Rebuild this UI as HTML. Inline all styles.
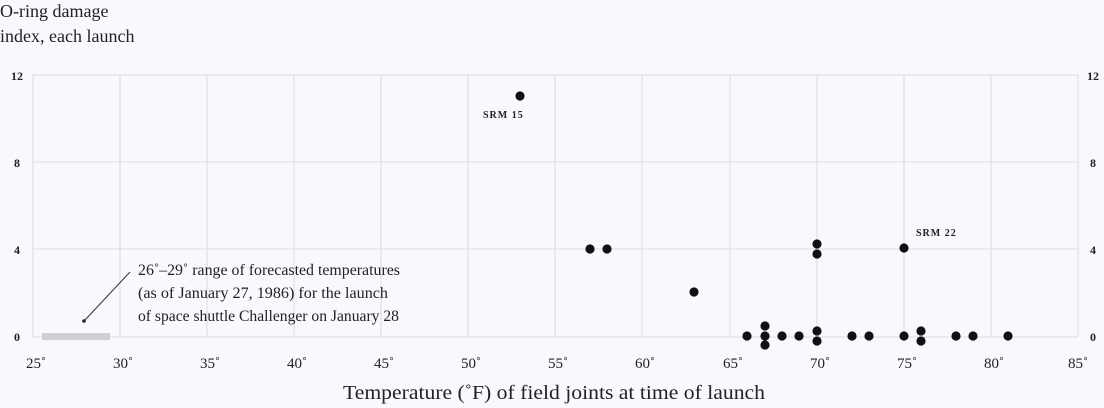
<!DOCTYPE html>
<html><head><meta charset="utf-8"><style>
html,body{margin:0;padding:0;background:#f9f9fd;}
svg{display:block;font-family:"Liberation Serif",serif;}
</style></head><body>
<svg width="1104" height="408" viewBox="0 0 1104 408">
<rect width="1104" height="408" fill="#f9f9fd"/>
<g stroke="#dcdcee" stroke-width="1.1" fill="none">
<line x1="33" y1="75" x2="1078" y2="75"/>
<line x1="33" y1="162" x2="1078" y2="162"/>
<line x1="33" y1="249" x2="1078" y2="249"/>
<line x1="33" y1="337" x2="1078" y2="337"/>
<line x1="33" y1="75" x2="33" y2="337"/>
<line x1="120" y1="75" x2="120" y2="337"/>
<line x1="207" y1="75" x2="207" y2="337"/>
<line x1="294" y1="75" x2="294" y2="337"/>
<line x1="381" y1="75" x2="381" y2="337"/>
<line x1="468" y1="75" x2="468" y2="337"/>
<line x1="555" y1="75" x2="555" y2="337"/>
<line x1="642" y1="75" x2="642" y2="337"/>
<line x1="730" y1="75" x2="730" y2="337"/>
<line x1="817" y1="75" x2="817" y2="337"/>
<line x1="904" y1="75" x2="904" y2="337"/>
<line x1="991" y1="75" x2="991" y2="337"/>
<line x1="1078" y1="75" x2="1078" y2="337"/>
</g>
<text x="0" y="17" font-size="18" fill="#222">O-ring damage</text>
<text x="0" y="42" font-size="18" fill="#222">index, each launch</text>
<g font-size="12" font-weight="bold" fill="#222" text-anchor="middle">
<text x="17" y="80">12</text><text x="17" y="167">8</text><text x="17" y="254">4</text><text x="17" y="341">0</text>
<text x="1093" y="80">12</text><text x="1093" y="167">8</text><text x="1093" y="254">4</text><text x="1093" y="341">0</text>
</g>
<g font-size="15" fill="#222" text-anchor="middle">
<text x="36" y="368">25˚</text><text x="123" y="368">30˚</text><text x="210" y="368">35˚</text><text x="297" y="368">40˚</text><text x="384" y="368">45˚</text><text x="471" y="368">50˚</text><text x="558" y="368">55˚</text><text x="645" y="368">60˚</text><text x="733" y="368">65˚</text><text x="820" y="368">70˚</text><text x="907" y="368">75˚</text><text x="994" y="368">80˚</text><text x="1078" y="368">85˚</text>
</g>
<text x="554" y="399" font-size="20" fill="#222" text-anchor="middle" textLength="422" lengthAdjust="spacingAndGlyphs">Temperature (˚F) of field joints at time of launch</text>
<rect x="42" y="333" width="68" height="7" fill="#cfcfd6"/>
<line x1="85" y1="320" x2="130" y2="272" stroke="#333" stroke-width="1"/>
<circle cx="84" cy="321" r="1.8" fill="#222"/>
<g font-size="15.5" fill="#222">
<text x="138" y="275" textLength="262" lengthAdjust="spacingAndGlyphs">26˚–29˚ range of forecasted temperatures</text>
<text x="138" y="298" textLength="250" lengthAdjust="spacingAndGlyphs">(as of January 27, 1986) for the launch</text>
<text x="138" y="321" textLength="261" lengthAdjust="spacingAndGlyphs">of space shuttle Challenger on January 28</text>
</g>
<g font-size="10" font-weight="bold" fill="#222" letter-spacing="1">
<text x="483" y="118">SRM 15</text>
<text x="916" y="236">SRM 22</text>
</g>
<g fill="#111">
<circle cx="520" cy="96" r="4.6"/>
<circle cx="590" cy="249" r="4.6"/>
<circle cx="607" cy="249" r="4.6"/>
<circle cx="694" cy="292" r="4.6"/>
<circle cx="747" cy="336" r="4.6"/>
<circle cx="765" cy="326" r="4.6"/>
<circle cx="765" cy="336" r="4.6"/>
<circle cx="765" cy="345" r="4.6"/>
<circle cx="782" cy="336" r="4.6"/>
<circle cx="799" cy="336" r="4.6"/>
<circle cx="817" cy="331" r="4.6"/>
<circle cx="817" cy="341" r="4.6"/>
<circle cx="817" cy="244" r="4.6"/>
<circle cx="817" cy="254" r="4.6"/>
<circle cx="852" cy="336" r="4.6"/>
<circle cx="869" cy="336" r="4.6"/>
<circle cx="904" cy="336" r="4.6"/>
<circle cx="904" cy="248" r="4.6"/>
<circle cx="921" cy="331" r="4.6"/>
<circle cx="921" cy="341" r="4.6"/>
<circle cx="956" cy="336" r="4.6"/>
<circle cx="973" cy="336" r="4.6"/>
<circle cx="1008" cy="336" r="4.6"/>
</g>
</svg>
</body></html>
